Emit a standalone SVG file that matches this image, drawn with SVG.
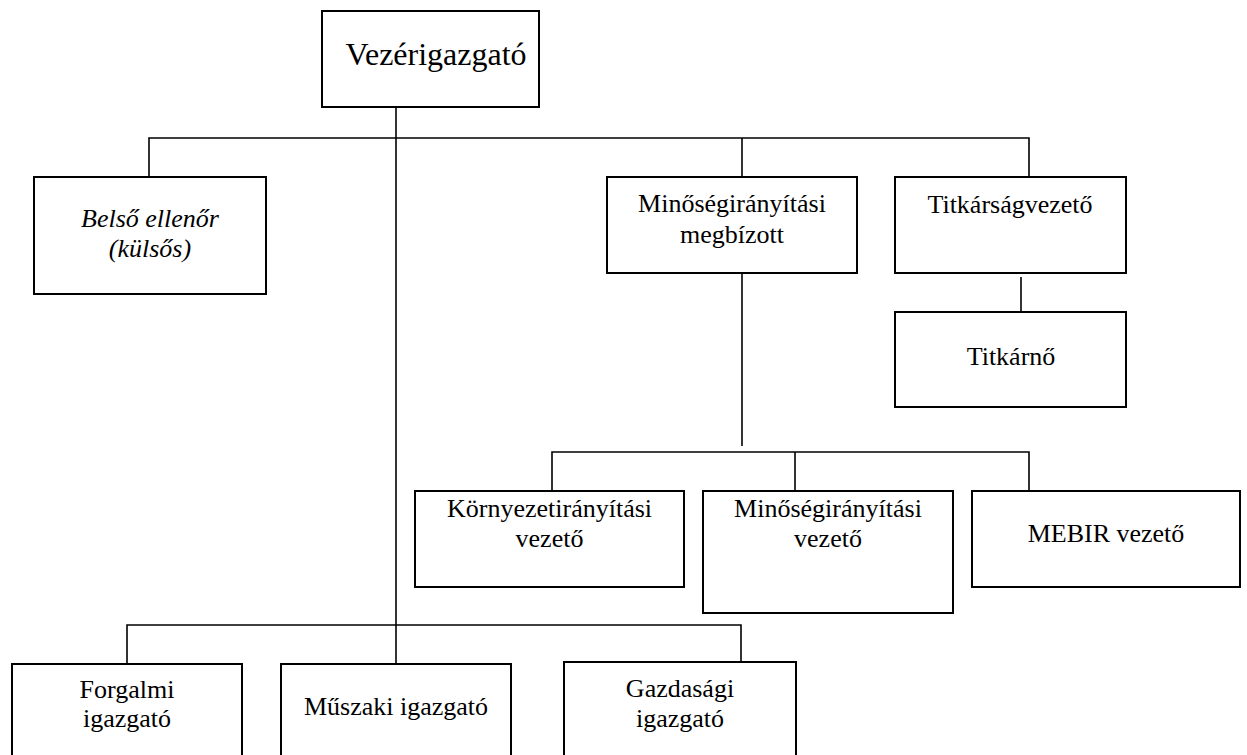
<svg xmlns="http://www.w3.org/2000/svg" width="1247" height="755" viewBox="0 0 1247 755">
<style>
.box{fill:#fff;stroke:#000;stroke-width:2}
.c{fill:none;stroke:#000;stroke-width:1.6}
text{font-family:"Liberation Serif","Times New Roman",serif;font-size:26px;fill:#000;text-anchor:middle}
.big{font-size:32px}
.it{font-style:italic}
</style>
<rect width="1247" height="755" fill="#fff"/>
<g id="connectors">
<path class="c" d="M396,107 V664"/>
<path class="c" d="M149,177 V138 H1029 V177"/>
<path class="c" d="M742,138 V177"/>
<path class="c" d="M742,273 V446"/>
<path class="c" d="M552,491 V452 H1029 V491"/>
<path class="c" d="M795,452 V491"/>
<path class="c" d="M1021,277 V317"/>
<path class="c" d="M127,664 V625 H741 V664"/>
</g>
<g id="vezerigazgato">
<rect class="box" x="322" y="11" width="217" height="96"/>
<text class="big" x="436" y="65">Vezérigazgató</text>
</g>
<g id="belso-ellenor">
<rect class="box" x="34" y="177" width="232" height="117"/>
<text class="it" x="150" y="227">Belső ellenőr</text>
<text class="it" x="150" y="257">(külsős)</text>
</g>
<g id="minoseg-megbizott">
<rect class="box" x="607" y="177" width="250" height="96"/>
<text x="732" y="212">Minőségirányítási</text>
<text x="732" y="243">megbízott</text>
</g>
<g id="titkarsagvezeto">
<rect class="box" x="895" y="177" width="231" height="96"/>
<text x="1010" y="213">Titkárságvezető</text>
</g>
<g id="titkarno">
<rect class="box" x="895" y="312" width="231" height="95"/>
<text x="1011" y="365">Titkárnő</text>
</g>
<g id="kornyezet-vezeto">
<rect class="box" x="415" y="491" width="269" height="96"/>
<text x="549.5" y="517">Környezetirányítási</text>
<text x="549.5" y="547">vezető</text>
</g>
<g id="minoseg-vezeto">
<rect class="box" x="703" y="491" width="250" height="122"/>
<text x="828" y="517">Minőségirányítási</text>
<text x="828" y="547">vezető</text>
</g>
<g id="mebir-vezeto">
<rect class="box" x="972" y="491" width="268" height="96"/>
<text x="1106" y="542">MEBIR vezető</text>
</g>
<g id="forgalmi">
<rect class="box" x="12" y="664" width="230" height="100"/>
<text x="127" y="698">Forgalmi</text>
<text x="127" y="727">igazgató</text>
</g>
<g id="muszaki">
<rect class="box" x="281" y="664" width="230" height="100"/>
<text x="396" y="715">Műszaki igazgató</text>
</g>
<g id="gazdasagi">
<rect class="box" x="564" y="662" width="232" height="100"/>
<text x="680" y="697">Gazdasági</text>
<text x="680" y="727">igazgató</text>
</g>
</svg>
